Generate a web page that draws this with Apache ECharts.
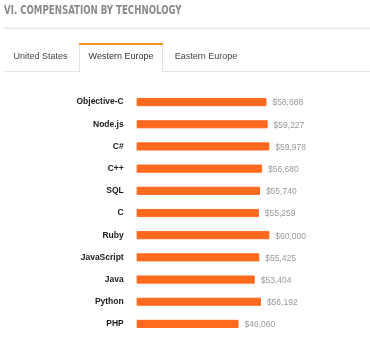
<!DOCTYPE html>
<html>
<head>
<meta charset="utf-8">
<script src="https://cdn.jsdelivr.net/npm/echarts@6/dist/echarts.min.js"></script>
<style>
html,body{margin:0;padding:0;background:#fff;}
#chart{width:370px;height:338px;}
</style>
</head>
<body>
<div id="chart"></div>
<script>
var titleText = 'VI. COMPENSATION BY TECHNOLOGY';
var tabs = ['United States', 'Western Europe', 'Eastern Europe'];
var categories = ['Objective-C', 'Node.js', 'C#', 'C++', 'SQL', 'C', 'Ruby', 'JavaScript', 'Java', 'Python', 'PHP'];
var salaries = [58688, 59227, 59978, 56680, 55740, 55259, 60000, 55425, 53404, 56192, 46060];

var chart = echarts.init(document.getElementById('chart'), null, {renderer: 'canvas'});
var tabFont = "'Liberation Sans', Arial, sans-serif";
var option = {
  animation: false,
  backgroundColor: '#fff',
  graphic: [
    {type: 'text', x: 4, y: 5, scaleX: 0.8, scaleY: 1, style: {text: titleText, fill: '#8a8a8a', verticalAlign: 'top',
      font: "bold 12px 'DejaVu Sans Condensed', 'DejaVu Sans', sans-serif"}},
    {type: 'rect', shape: {x: 4, y: 27.5, width: 366, height: 1.5}, style: {fill: '#e6e6e6'}},
    {type: 'line', shape: {x1: 4, y1: 71.5, x2: 79, y2: 71.5}, style: {stroke: '#e3e3e3', lineWidth: 1}},
    {type: 'line', shape: {x1: 163, y1: 71.5, x2: 370, y2: 71.5}, style: {stroke: '#e3e3e3', lineWidth: 1}},
    {type: 'line', shape: {x1: 79.5, y1: 44, x2: 79.5, y2: 72}, style: {stroke: '#e3e3e3', lineWidth: 1}},
    {type: 'line', shape: {x1: 162.5, y1: 44, x2: 162.5, y2: 72}, style: {stroke: '#e3e3e3', lineWidth: 1}},
    {type: 'rect', shape: {x: 79, y: 43, width: 84, height: 2}, style: {fill: '#f7931e'}},
    {type: 'text', x: 40.5, y: 57, style: {text: tabs[0], fill: '#444', align: 'center', verticalAlign: 'middle', font: '9px ' + tabFont}},
    {type: 'text', x: 121, y: 57, style: {text: tabs[1], fill: '#333', align: 'center', verticalAlign: 'middle', font: '9px ' + tabFont}},
    {type: 'text', x: 206, y: 57, style: {text: tabs[2], fill: '#444', align: 'center', verticalAlign: 'middle', font: '9px ' + tabFont}}
  ],
  grid: {left: 136.7, top: 91, height: 244, width: 154.7, containLabel: false},
  xAxis: {type: 'value', min: 0, max: 70000, show: false},
  yAxis: {
    type: 'category', data: categories, inverse: true,
    axisLine: {show: false}, axisTick: {show: false}, splitLine: {show: false},
    axisLabel: {margin: 13, color: '#1a1a1a', fontWeight: 'bold', fontSize: 8.5, fontFamily: "'Liberation Sans', Arial, sans-serif"}
  },
  series: [{
    type: 'bar', data: salaries, barWidth: 8,
    itemStyle: {color: '#ff6a1f', borderColor: '#ff5a0a', borderWidth: 0.8},
    label: {
      show: true, position: 'right', distance: 6, offset: [0, 1],
      color: '#999', fontSize: 8.5, fontFamily: "'Liberation Sans', Arial, sans-serif",
      formatter: function (p) { return '$' + p.value.toLocaleString('en-US'); }
    }
  }]
};
chart.setOption(option);
</script>
</body>
</html>
